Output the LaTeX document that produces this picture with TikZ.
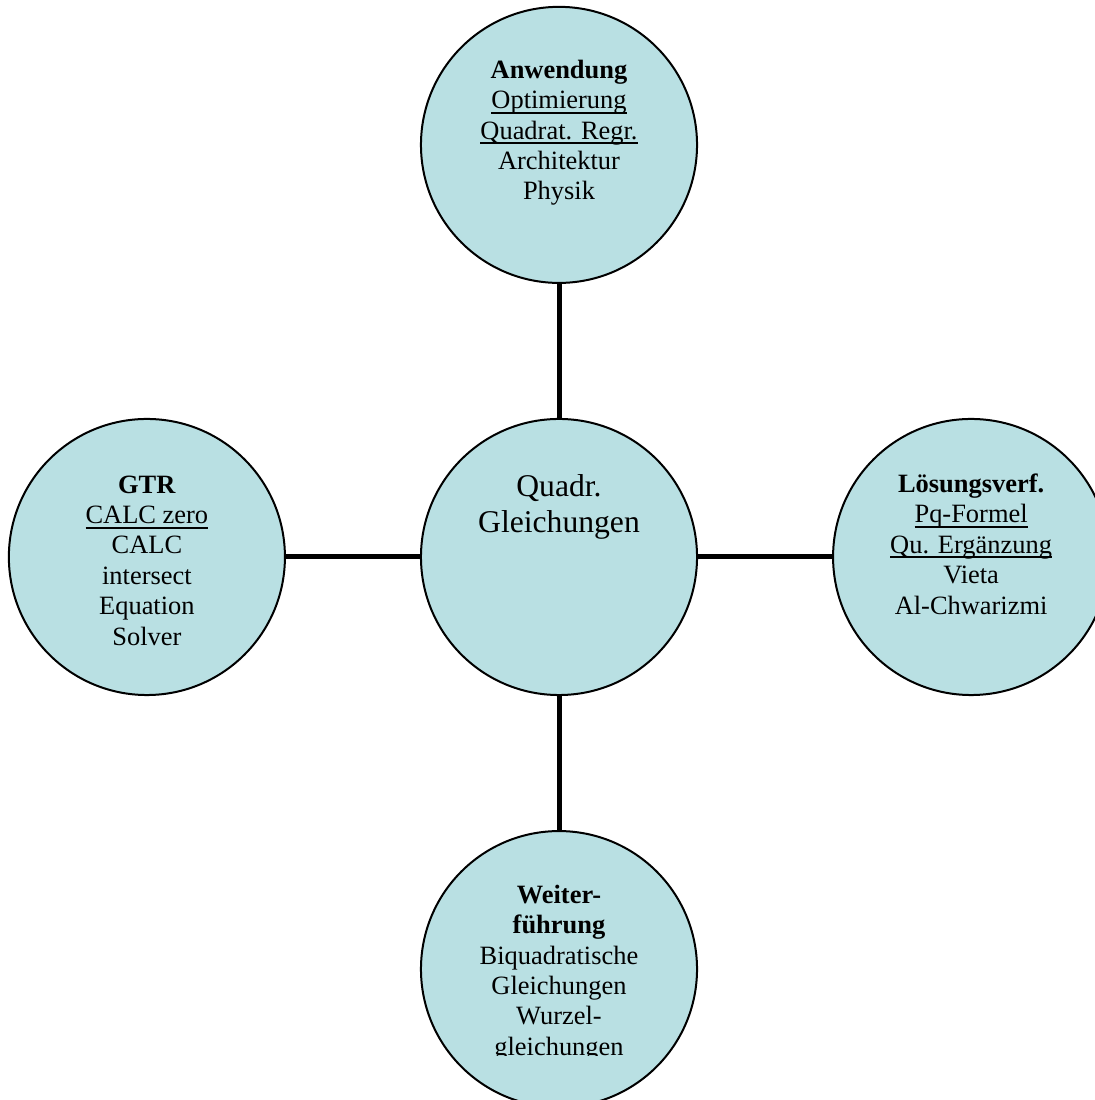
\documentclass[tikz,border=0pt]{standalone}
\usepackage{fontspec}
\setmainfont{Liberation Serif}
\usetikzlibrary{positioning}
\definecolor{mapCyan}{HTML}{B9E0E3}
\newcommand{\thickul}[1]{\setbox0\hbox{#1}\leavevmode
  \rlap{\vrule height -2.2pt depth 3.6pt width \wd0}\box0}
\tikzset{
  topic/.style    = {circle, draw=black, line width=0.05cm, fill=mapCyan,
                     minimum size=6.9cm, inner sep=0pt},
  spoke/.style    = {line width=0.125cm, black},
  topictext/.style = {anchor=base, align=center,
                     font=\fontsize{18.8}{21.6}\selectfont},
  hubtext/.style  = {anchor=base, align=center,
                     font=\fontsize{22.5}{25.8}\selectfont},
}

\begin{document}
\begin{tikzpicture}[x=0.025cm,y=0.025cm, node distance=3.35cm]
  \useasboundingbox (0,0) rectangle (1095,1100);
  \clip (0,0) rectangle (1095,1100);
  % circles
  \node[topic] (hub) at (559,543) {};
  \node[topic, above=of hub] (app) {};
  \node[topic, left=of hub] (gtr) {};
  \node[topic, right=of hub] (solve) {};
  \node[topic, below=of hub] (more) {};
  % spokes
  \draw[spoke] (app) -- (hub);
  \draw[spoke] (gtr) -- (hub);
  \draw[spoke] (solve) -- (hub);
  \draw[spoke] (more) -- (hub);
  % texts (anchored at the baseline of their last line)
  \node[hubtext] (hubText) at ([yshift=0.6cm]hub.center) {Quadr.\\Gleichungen};
  \node[topictext] (appText) at ([yshift=-1.375cm]app.center)
    {\textbf{Anwendung}\\\thickul{Optimierung}\\\thickul{Quadrat. Regr.}\\Architektur\\Physik};
  \node[topictext] (gtrText) at ([yshift=-2.2cm]gtr.center)
    {\textbf{GTR}\\\thickul{CALC zero}\\CALC\\intersect\\Equation\\Solver};
  \node[topictext] (solveText) at ([yshift=-1.425cm]solve.center)
    {\textbf{Lösungsverf.}\\\thickul{Pq-Formel}\\\thickul{Qu. Ergänzung}\\Vieta\\Al-Chwarizmi};
  \begin{scope}
    \clip (0,44) rectangle (1095,1100);
    \node[topictext] (moreText) at ([yshift=-2.15cm]more.center)
      {\textbf{Weiter-}\\\textbf{führung}\\Biquadratische\\Gleichungen\\Wurzel-\\gleichungen};
  \end{scope}
\end{tikzpicture}
\end{document}
